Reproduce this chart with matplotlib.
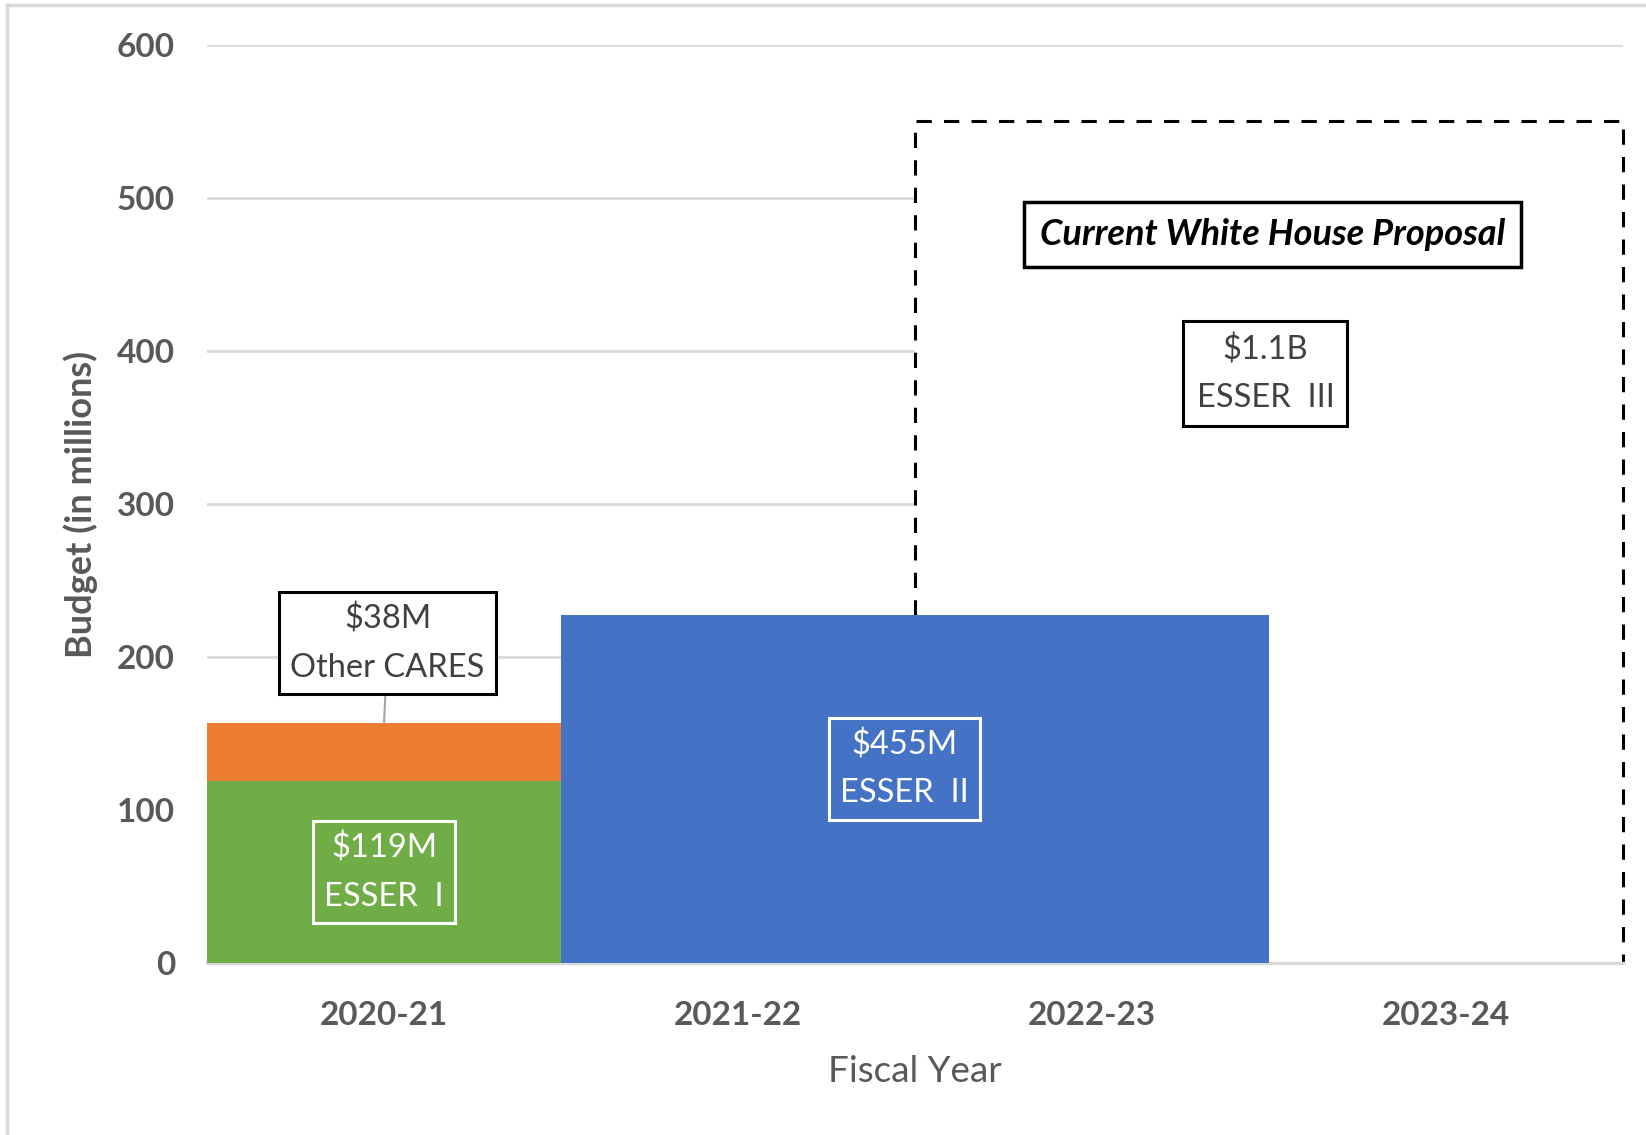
import matplotlib as mpl
mpl.use("Agg")
import matplotlib.pyplot as plt
from matplotlib.lines import Line2D

mpl.rcParams.update({"font.family": ["Lato", "DejaVu Sans"]})

GRAY, GRID = "#595959", "#D9D9D9"
GREEN, ORANGE, BLUE = "#70AD47", "#ED7D31", "#4472C4"

# ---- data ----
years = ["2020-21", "2021-22", "2022-23", "2023-24"]
esser1 = [119, 0, 0, 0]            # ESSER I, $M
other_cares = [38, 0, 0, 0]        # Other CARES, $M
esser2_total = 455                 # ESSER II spread over 2021-22 and 2022-23
esser2 = [0, esser2_total / 2, esser2_total / 2, 0]
esser3_total = 1100                # proposal, spread over 2022-23 and 2023-24
esser3_per_year = esser3_total / 2
yticks = [0, 100, 200, 300, 400, 500, 600]

fig = plt.figure(figsize=(16.46, 11.35), dpi=100)
ax = fig.add_axes([0.1258, 0.1515, 0.8602, 0.8089])
x = list(range(len(years)))

# proposal outline (white fill hides the gridlines behind it)
x0, x1 = 1.5, 3.5
ax.fill_between([x0, x1], 0, esser3_per_year, color="white", zorder=1.5)
ax.plot([x0, x0, x1, x1], [esser2[1], esser3_per_year, esser3_per_year, 0],
        ls=(0, (5, 4)), color="black", lw=2.2, zorder=1.6, clip_on=False)

ax.bar(x, esser1, width=1.0, color=GREEN, zorder=2)
ax.bar(x, other_cares, bottom=esser1, width=1.0, color=ORANGE, zorder=2)
ax.bar(x, esser2, width=1.0, color=BLUE, zorder=2)

ax.set_xlim(-0.5, 3.5)
ax.set_ylim(0, 600)
ax.set_yticks(yticks)
ax.set_xticks(x)
ax.set_xticklabels(years)
ax.yaxis.grid(True, color=GRID, lw=2)
ax.set_axisbelow(True)
for s in ["top", "right", "left"]:
    ax.spines[s].set_visible(False)
ax.spines["bottom"].set_color(GRID)
ax.spines["bottom"].set_linewidth(2.5)
ax.spines["bottom"].set_zorder(1.7)
ax.tick_params(length=0, labelsize=24, labelcolor=GRAY)
ax.tick_params(axis="y", pad=23)
ax.tick_params(axis="x", pad=27)
for t in ax.get_xticklabels() + ax.get_yticklabels():
    t.set_fontweight("bold")

ax.set_xlabel("Fiscal Year", fontsize=26.5, color=GRAY, labelpad=18)
ax.set_ylabel("Budget (in millions)", fontsize=26, color=GRAY, fontweight="bold", labelpad=14)

# ---- data labels ----
lab = dict(ha="center", va="center", fontsize=23.5, linespacing=1.75, zorder=5)
ax.annotate(f"${other_cares[0]}M\nOther CARES", xy=(0, esser1[0] + other_cares[0]),
            xytext=(0.01, 209), color="#404040", **lab,
            bbox=dict(boxstyle="square,pad=0.35", fc="white", ec="black", lw=2.2),
            arrowprops=dict(arrowstyle="-", color="#A6A6A6", lw=1.5, shrinkA=0, shrinkB=0))
ax.text(0, esser1[0] / 2, f"${esser1[0]}M\nESSER  I", color="white", **lab,
        bbox=dict(boxstyle="square,pad=0.35", fc=GREEN, ec="white", lw=2.2))
ax.text(1.47, 127, f"${esser2_total}M\nESSER  II", color="white", **lab,
        bbox=dict(boxstyle="square,pad=0.35", fc=BLUE, ec="white", lw=2.2))
ax.text(2.49, 385, "$1.1B\nESSER  III", color="#404040", **lab,
        bbox=dict(boxstyle="square,pad=0.4", fc="white", ec="black", lw=2.2))
ax.text(2.51, 476, "Current White House Proposal", ha="center", va="center", fontsize=26,
        fontweight="bold", style="italic", color="black", zorder=5,
        bbox=dict(boxstyle="square,pad=0.45", fc="white", ec="black", lw=2.5))

# outer chart border (left and top visible)
fig.add_artist(Line2D([7 / 1646, 7 / 1646], [0, 1 - 5 / 1135], color=GRID, lw=2.5))
fig.add_artist(Line2D([7 / 1646, 1], [1 - 5 / 1135, 1 - 5 / 1135], color=GRID, lw=2.5))

fig.savefig("out.png", dpi=100)
